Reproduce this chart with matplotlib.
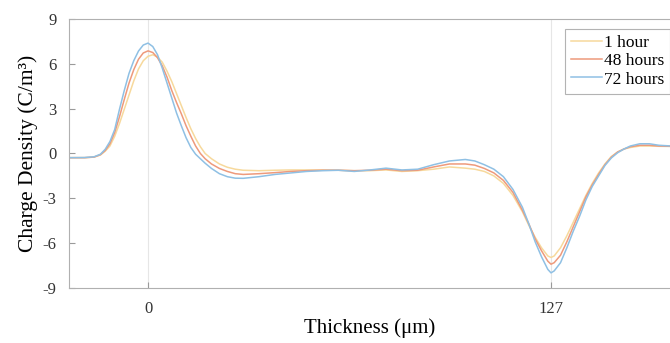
import numpy as np
import matplotlib.pyplot as plt

# thickness positions (um) and charge density (C/m^3)
x_um = [-25, -20, -17,
        -15, -13.5, -12, -10.5, -9, -7.5, -6, -4.5, -3, -1.5, 0, 1.5, 3, 4.5, 6,
        7.5, 9, 10.5, 12, 13.5, 15, 16.5, 18,
        20, 22.5, 25, 27.5, 30,
        35, 40, 45, 50, 55, 60, 65, 70, 75, 80, 85, 90, 95, 100,
        103, 106, 109, 112, 115, 118,
        120, 122, 124, 126, 127,
        128, 130, 132, 134, 136, 138, 140, 142, 144, 146, 148, 150, 152,
        155, 158, 161, 165]

rho_1h = [-0.28, -0.28, -0.24,
          -0.1, 0.15, 0.5, 1.15, 2.0, 2.95, 3.9, 4.85, 5.65, 6.2, 6.5, 6.6, 6.45,
          6.1, 5.5, 4.8, 4.0, 3.2, 2.4, 1.65, 1.0, 0.45, 0.0,
          -0.35, -0.7, -0.92, -1.05, -1.12,
          -1.15, -1.12, -1.1, -1.1, -1.1, -1.12, -1.15, -1.15, -1.1, -1.2, -1.15,
          -1.05, -0.9, -0.98,
          -1.05, -1.2, -1.5, -2.0, -2.8, -3.9,
          -4.8, -5.6, -6.3, -6.85, -6.95,
          -6.85, -6.3, -5.5, -4.6, -3.7, -2.8, -2.0, -1.3, -0.7, -0.2, 0.1, 0.3, 0.4,
          0.5, 0.5, 0.48, 0.47]

rho_48h = [-0.28, -0.28, -0.24,
           -0.08, 0.2, 0.65, 1.4, 2.45, 3.6, 4.7, 5.6, 6.3, 6.72, 6.86, 6.75, 6.4,
           5.85, 5.1, 4.2, 3.4, 2.65, 1.85, 1.15, 0.5, 0.0, -0.35,
           -0.7, -1.0, -1.2, -1.35, -1.4,
           -1.35, -1.28, -1.2, -1.15, -1.12, -1.12, -1.15, -1.12, -1.05, -1.15,
           -1.12, -0.9, -0.7, -0.7,
           -0.78, -1.0, -1.3, -1.8, -2.6, -3.8,
           -4.7, -5.7, -6.5, -7.2, -7.4,
           -7.3, -6.8, -5.9, -4.9, -3.9, -2.9, -2.1, -1.4, -0.75, -0.25, 0.1, 0.3,
           0.45,
           0.55, 0.55, 0.5, 0.48]

rho_72h = [-0.28, -0.27, -0.22,
           -0.05, 0.28, 0.8, 1.6, 2.95, 4.2, 5.35, 6.2, 6.85, 7.25, 7.38, 7.15, 6.6,
           5.7, 4.7, 3.7, 2.7, 1.85, 1.05, 0.4, -0.05, -0.35, -0.65,
           -1.0, -1.35, -1.55, -1.65, -1.66,
           -1.55, -1.4, -1.3, -1.2, -1.15, -1.12, -1.2, -1.1, -0.98, -1.1, -1.05,
           -0.75, -0.5, -0.4,
           -0.5, -0.75, -1.05, -1.55, -2.4, -3.6,
           -4.7, -5.9, -6.9, -7.75, -7.98,
           -7.85, -7.3, -6.3, -5.2, -4.2, -3.1, -2.2, -1.5, -0.8, -0.3, 0.05, 0.3,
           0.5,
           0.65, 0.65, 0.55, 0.5]

labels = ['1 hour', '48 hours', '72 hours']
colors = ['#f7d99c', '#ee9a7c', '#8fc0e4']

plt.rcParams['font.family'] = ['Liberation Serif', 'DejaVu Serif']
plt.rcParams['axes.unicode_minus'] = False

fig = plt.figure(figsize=(6.7, 3.43), dpi=100)
ax = fig.add_axes([0.103, 0.160, 0.897, 0.785])

for y, lab, c in zip([rho_1h, rho_48h, rho_72h], labels, colors):
    ax.plot(x_um, y, color=c, lw=1.1, label=lab)

ax.set_xlim(-24.9, 164.5)
ax.set_ylim(-9, 9)
ax.set_xticks([0, 127])
ax.set_yticks([-9, -6, -3, 0, 3, 6, 9])
ax.xaxis.grid(True, color='#e6e6e6', lw=0.8)
ax.set_axisbelow(True)

for s in ['left', 'bottom', 'top']:
    ax.spines[s].set_color('#b0b0b0')
ax.spines['right'].set_visible(False)
ax.tick_params(direction='in', length=4, color='#9a9a9a', labelcolor='#333333',
               labelsize=12, pad=9)

ax.set_xlabel('Thickness (μm)', fontsize=15, labelpad=1)
ax.set_ylabel('Charge Density (C/m³)', fontsize=15.5, labelpad=3)

leg = ax.legend(loc='upper right', bbox_to_anchor=(1.0, 0.963), fontsize=12.5,
                frameon=True, fancybox=False, edgecolor='#a0a0a0',
                handlelength=1.8, handletextpad=0.1, borderpad=0.35,
                labelspacing=0.12, borderaxespad=0)
leg.get_frame().set_linewidth(0.8)

fig.savefig('out.png', dpi=100)
